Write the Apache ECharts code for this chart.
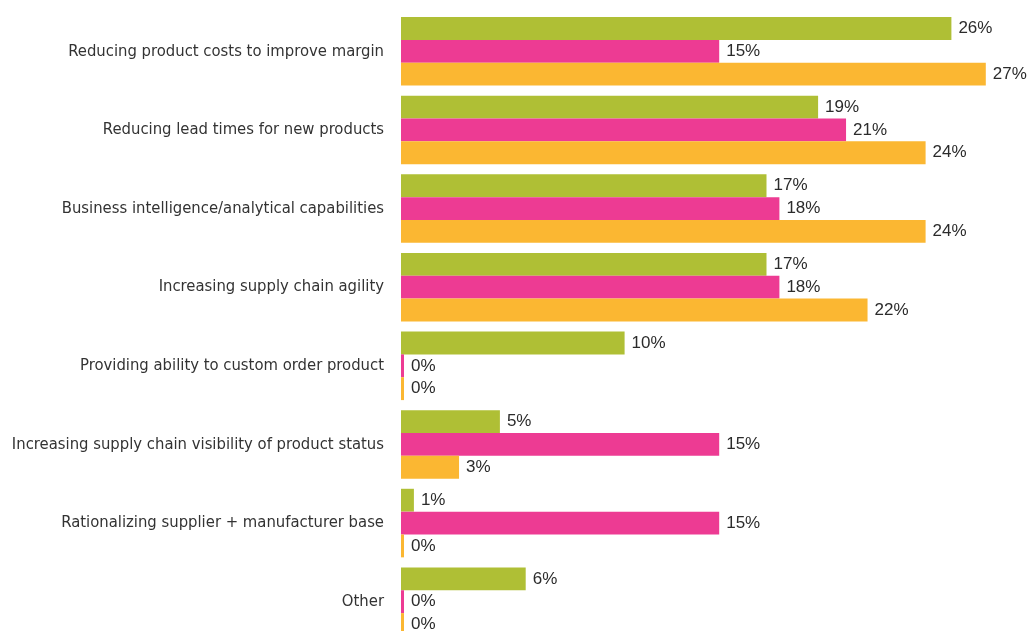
<!DOCTYPE html>
<html lang="en">
<head>
  <meta charset="UTF-8">
  <title>Priorities</title>
  <script src="https://cdn.jsdelivr.net/npm/echarts@6/dist/echarts.min.js"></script>
  <style>
    html, body { margin: 0; padding: 0; background: #fff; }
    #chart { width: 1027px; height: 631px; }
  </style>
</head>
<body>
  <div id="chart"></div>
  <script>
    // categories, top to bottom
    var categories = [
      'Reducing product costs to improve margin',
      'Reducing lead times for new products',
      'Business intelligence/analytical capabilities',
      'Increasing supply chain agility',
      'Providing ability to custom order product',
      'Increasing supply chain visibility of product status',
      'Rationalizing supplier + manufacturer base',
      'Other'
    ]
    // values in % (labels are rounded)
    var greenValues = [25.6, 19.4, 17.0, 17.0, 10.4, 4.6, 0.6, 5.8]
    var pinkValues = [14.8, 20.7, 17.6, 17.6, 0, 14.8, 14.8, 0]
    var orangeValues = [27.2, 24.4, 24.4, 21.7, 0, 2.7, 0, 0]

    var chart = echarts.init(document.getElementById('chart'))

    function barSeries(name, data, color) {
      return {
        name: name,
        type: 'bar',
        data: data,
        barGap: '0%',
        barCategoryGap: '12.8%',
        barMinHeight: 3,
        itemStyle: { color: color },
        label: {
          show: true,
          position: 'right',
          distance: 7,
          color: '#2b2b2b',
          fontSize: 17,
          fontFamily: 'Liberation Sans, Arial, sans-serif',
          formatter: function (p) { return Math.round(p.value) + '%' }
        },
        emphasis: { disabled: true },
        animation: false
      }
    }

    var option = {
      animation: false,
      grid: { left: 401, right: 24, top: 12, bottom: -10, containLabel: false, outerBoundsMode: 'none' },
      xAxis: {
        type: 'value',
        min: 0,
        max: 28,
        show: false
      },
      yAxis: {
        type: 'category',
        data: categories,
        inverse: true,
        axisLine: { show: false },
        axisTick: { show: false },
        splitLine: { show: false },
        axisLabel: {
          margin: 17,
          color: '#333',
          fontSize: 16.5,
          fontFamily: '"Liberation Sans Narrow", "DejaVu Sans Condensed", sans-serif'
        }
      },
      series: [
        barSeries('Green', greenValues, '#afbf35'),
        barSeries('Pink', pinkValues, '#ed3b93'),
        barSeries('Orange', orangeValues, '#fbb732')
      ]
    }
    chart.setOption(option)
    window.onresize = function () {
      chart.resize()
    }
  </script>
</body>
</html>
